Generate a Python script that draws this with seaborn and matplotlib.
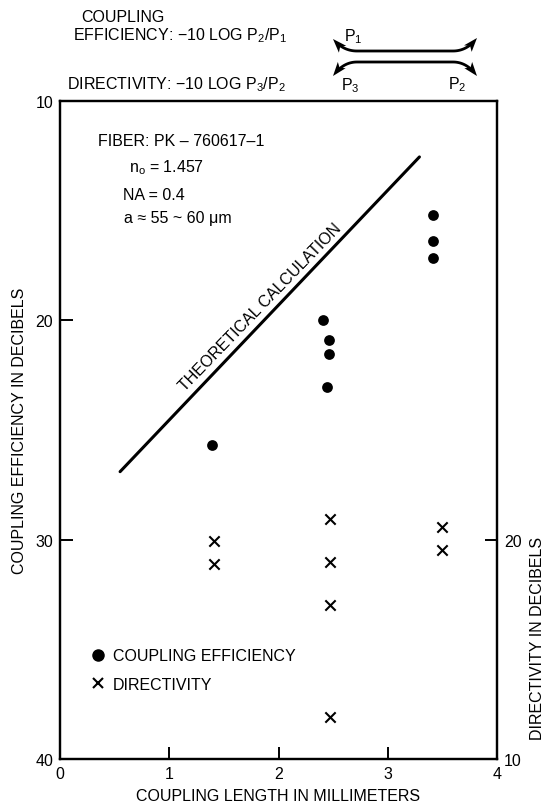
import numpy as np
import pandas as pd
import matplotlib
matplotlib.use("Agg")
import matplotlib.pyplot as plt
import seaborn as sns
from matplotlib.lines import Line2D

# ---- data ----
length_eff = [1.39, 2.41, 2.46, 2.46, 2.44, 3.41, 3.41, 3.41]
coupling_eff = [25.7, 20.0, 20.9, 21.55, 23.05, 15.2, 16.4, 17.15]
length_dir = [1.41, 1.41, 2.47, 2.47, 2.47, 2.47, 3.50, 3.50]
directivity = [19.95, 18.9, 20.95, 19.0, 17.0, 11.9, 20.6, 19.55]
theory_len = [0.55, 3.29]
theory_eff = [26.9, 12.55]
x_ticks = [0, 1, 2, 3, 4]
left_ticks = [10, 20, 30, 40]
right_ticks = [10, 20]

sns.set_style("white")
FONT = ["Liberation Sans", "DejaVu Sans"]
plt.rcParams["font.family"] = FONT
plt.rcParams["mathtext.fontset"] = "custom"
plt.rcParams["mathtext.rm"] = "Liberation Sans"
plt.rcParams["mathtext.it"] = "Liberation Sans:italic"
plt.rcParams["mathtext.default"] = "rm"
for k in ("text.color", "axes.labelcolor", "xtick.color", "ytick.color"):
    plt.rcParams[k] = "black"

FS = 11.5
W, H = 545, 804
fig = plt.figure(figsize=(W / 100, H / 100), dpi=100)
ax = fig.add_axes([60 / W, 1 - 760 / H, (497 - 60) / W, (760 - 102) / H])

df_eff = pd.DataFrame({"len": length_eff, "eff": coupling_eff})
df_dir = pd.DataFrame({"len": length_dir, "dir": directivity})
df_th = pd.DataFrame({"len": theory_len, "eff": theory_eff})

sns.lineplot(data=df_th, x="len", y="eff", ax=ax, color="black", lw=2.2)
sns.scatterplot(data=df_eff, x="len", y="eff", ax=ax, color="black",
                marker="o", s=60, linewidth=0, zorder=3)

ax.set_xlim(0, 4)
ax.set_ylim(40, 10)
ax.set_xticks(x_ticks)
ax.set_yticks(left_ticks)
ax.tick_params(direction="in", length=9, width=1.4, labelsize=FS, pad=5,
               top=False, right=False, bottom=True, left=True, colors="black")
for s in ax.spines.values():
    s.set_linewidth(1.6)
    s.set_color("black")
ax.set_xlabel("COUPLING LENGTH IN MILLIMETERS", fontsize=FS, labelpad=5)
ax.set_ylabel("COUPLING EFFICIENCY IN DECIBELS", fontsize=FS, labelpad=6)

ax2 = ax.twinx()
sns.scatterplot(data=df_dir, x="len", y="dir", ax=ax2, color="black",
                marker="x", s=55, linewidth=1.5, zorder=3)
ax2.set_ylim(10, 40)
ax2.set_yticks(right_ticks)
ax2.set_ylabel("")
ax2.tick_params(direction="in", length=9, width=1.4, labelsize=FS, pad=5,
                right=True, left=False, colors="black")
for s in ax2.spines.values():
    s.set_linewidth(1.6)
    s.set_color("black")

# overlay in pixel coordinates for annotations
ov = fig.add_axes([0, 0, 1, 1], zorder=5)
ov.set_xlim(0, W)
ov.set_ylim(H, 0)
ov.axis("off")
ov.patch.set_alpha(0)

handles = [Line2D([], [], ls="", marker="o", color="black", ms=8),
           Line2D([], [], ls="", marker="x", color="black", ms=7, mew=1.5)]
ov.legend(handles, ["COUPLING EFFICIENCY", "DIRECTIVITY"], loc="center left",
          bbox_to_anchor=(90, 671), bbox_transform=ov.transData, frameon=False,
          fontsize=FS, handlelength=1.0, handletextpad=0.45, labelspacing=0.85,
          borderpad=0, borderaxespad=0, labelcolor="black")

ov.text(98, 142, "FIBER: PK – 760617–1", fontsize=FS, va="center", ha="left")
ov.text(129, 168, r"n$_\mathrm{o}$ = 1.457", fontsize=FS, va="center", ha="left")
ov.text(123, 195, "NA = 0.4", fontsize=FS, va="center", ha="left")
ov.text(124, 218, "a ≈ 55 ~ 60 μm", fontsize=FS, va="center", ha="left")
ov.text(260, 308, "THEORETICAL CALCULATION", fontsize=FS, rotation=46,
        ha="center", va="center")

ov.text(537, 638, "DIRECTIVITY IN DECIBELS", fontsize=FS, rotation=90,
        ha="center", va="center")

ov.text(123, 17, "COUPLING", fontsize=FS, ha="center", va="center")
ov.text(73, 36, r"EFFICIENCY: −10 LOG P$_2$/P$_1$", fontsize=FS, ha="left", va="center")
ov.text(67, 85, r"DIRECTIVITY: −10 LOG P$_3$/P$_2$", fontsize=FS, ha="left", va="center")
ov.text(344, 37, r"P$_1$", fontsize=FS, ha="left", va="center")
ov.text(350, 86, r"P$_3$", fontsize=FS, ha="center", va="center")
ov.text(457, 85, r"P$_2$", fontsize=FS, ha="center", va="center")


def bez(p0, p1, p2, n=20):
    t = np.linspace(0, 1, n)[:, None]
    p0, p1, p2 = map(np.array, (p0, p1, p2))
    return (1 - t) ** 2 * p0 + 2 * (1 - t) * t * p1 + t ** 2 * p2


def head(tip, ctrl, L=14, w=10):
    tip = np.array(tip, float)
    d = tip - np.array(ctrl, float)
    d /= np.hypot(*d)
    n = np.array([-d[1], d[0]])
    base = tip - d * L
    pts = np.array([tip, base + n * w / 2, base + d * 3.5, base - n * w / 2])
    ov.fill(pts[:, 0], pts[:, 1], color="black", lw=0)


def curve(y, yl, yr, xl=333, xr=477, inset=24):
    cl = (xl + 10, y)
    cr = (xr - 10, y)
    left = bez((xl, yl), cl, (xl + inset, y))
    right = bez((xr - inset, y), cr, (xr, yr))
    allpts = np.vstack([left[5:], right[:-5]])
    ov.plot(allpts[:, 0], allpts[:, 1], color="black", lw=2.0,
            solid_capstyle="round")
    head(left[0], left[3])
    head(right[-1], right[-4])


curve(52, 40, 39)
curve(63, 77, 77)

fig.savefig("out.png", dpi=100)
